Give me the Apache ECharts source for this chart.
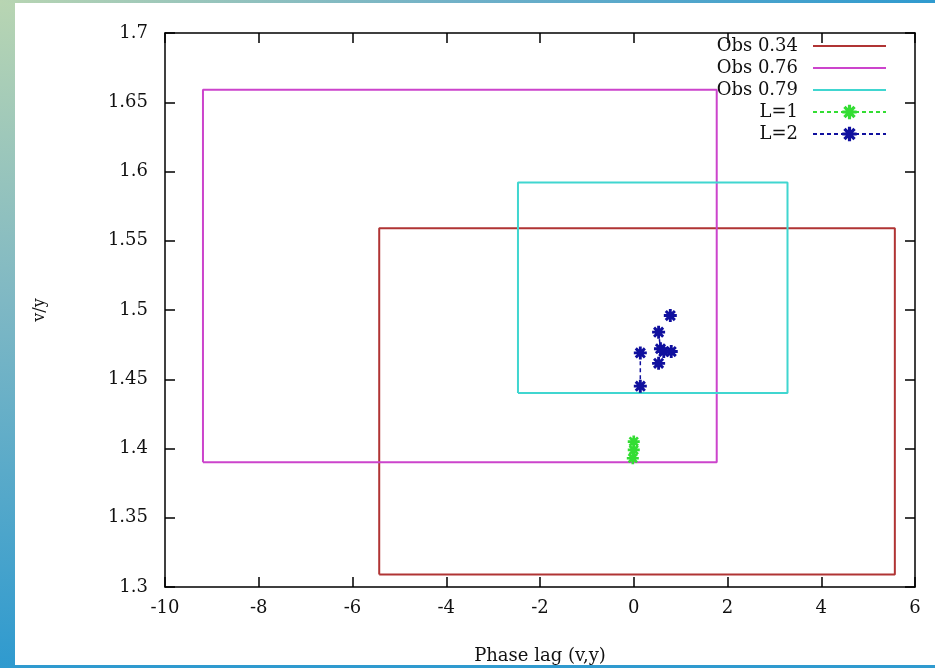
<!DOCTYPE html>
<html>
<head>
<meta charset="utf-8">
<script src="https://cdn.jsdelivr.net/npm/echarts@6/dist/echarts.min.js"></script>
<style>
  html, body { margin: 0; padding: 0; }
  body {
    width: 935px; height: 668px; position: relative; overflow: hidden;
    background: linear-gradient(to bottom, #b8d5b2 0%, #7fb8c4 45%, #2f9acf 100%);
  }
  #topbar { position: absolute; left: 0; top: 0; width: 935px; height: 3px;
    background: linear-gradient(to right, #b8d5b2 0%, #6fb0c8 50%, #2f9acf 100%); }
  #chart { position: absolute; left: 15px; top: 3px; width: 920px; height: 662px; background: #fff; }
</style>
</head>
<body>
<div id="topbar"></div>
<div id="chart"></div>
<script>
// ---- data ----
var xTicks = [-10, -8, -6, -4, -2, 0, 2, 4, 6];
var yTicks = [1.3, 1.35, 1.4, 1.45, 1.5, 1.55, 1.6, 1.65, 1.7];
// observation boxes: [xMin, xMax, yMin, yMax]
var obs034 = [-5.43, 5.57, 1.309, 1.559];
var obs076 = [-9.19, 1.77, 1.39, 1.659];
var obs079 = [-2.47, 3.28, 1.44, 1.592];
// model points (null = gap in the dashed line)
var l1X = [0.0, 0.0, -0.02];
var l1Y = [1.405, 1.399, 1.393];
var l2X = [0.14, 0.14, null, 0.78, null, 0.53, 0.57, null, 0.64, 0.80, null, 0.53];
var l2Y = [1.445, 1.469, null, 1.496, null, 1.484, 1.472, null, 1.470, 1.470, null, 1.4615];
var seriesNames = ['Obs 0.34', 'Obs 0.76', 'Obs 0.79', 'L=1', 'L=2'];
var seriesColors = ['#b03434', '#cc44cc', '#40d6d0', '#33dd33', '#10109e'];

function box(b) {
  return [[b[0], b[2]], [b[0], b[3]], [b[1], b[3]], [b[1], b[2]], [b[0], b[2]]];
}
function pts(xs, ys) {
  return xs.map(function (x, i) { return x === null ? [null, null] : [x, ys[i]]; });
}
var star = 'path://M0,3.9L10,3.9L10,6.1L0,6.1Z M3.9,0L6.1,0L6.1,10L3.9,10Z M0.7,2.3L2.3,0.7L9.3,7.7L7.7,9.3Z M7.7,0.7L9.3,2.3L2.3,9.3L0.7,7.7Z';

var chart = echarts.init(document.getElementById('chart'));
var font = 'DejaVu Serif';
var axisLine = { show: true, onZero: false, lineStyle: { color: '#000', width: 1.5 } };
var tick = { show: true, inside: true, length: 10, lineStyle: { color: '#000', width: 1.5 } };

function boxSeries(i, b) {
  return {
    name: seriesNames[i], type: 'line', data: box(b), symbol: 'none',
    lineStyle: { color: seriesColors[i], width: 2 },
    itemStyle: { color: seriesColors[i], opacity: 0 },
    animation: false, z: 2
  };
}

chart.setOption({
  animation: false,
  grid: { left: 150, right: 20, top: 30, bottom: 78, outerBoundsMode: 'none', containLabel: false },
  legend: {
    orient: 'vertical', right: 43, top: 29, align: 'right',
    itemWidth: 73, itemHeight: 18, itemGap: 4,
    textStyle: { fontFamily: font, fontSize: 18, color: '#111', padding: [0, 10, 0, 0] },
    data: seriesNames
  },
  xAxis: [{
    type: 'value', min: -10, max: 6, interval: 2,
    axisLine: axisLine, axisTick: tick, splitLine: { show: false },
    axisLabel: { fontFamily: font, fontSize: 18, color: '#111', margin: 12 },
    name: 'Phase lag (v,y)', nameLocation: 'middle', nameGap: 60,
    nameTextStyle: { fontFamily: font, fontSize: 18, color: '#111' }
  }, {
    type: 'value', min: -10, max: 6, interval: 2, position: 'top',
    axisLine: axisLine, axisTick: tick, splitLine: { show: false }, axisLabel: { show: false }
  }],
  yAxis: [{
    type: 'value', min: 1.3, max: 1.7, interval: 0.05,
    axisLine: axisLine, axisTick: tick, splitLine: { show: false },
    axisLabel: { fontFamily: font, fontSize: 18, color: '#111', margin: 17,
      formatter: function (v) { return String(+v.toFixed(2)); } },
    name: 'v/y', nameLocation: 'middle', nameGap: 117, nameRotate: 90,
    nameTextStyle: { fontFamily: font, fontSize: 16, color: '#111' }
  }, {
    type: 'value', min: 1.3, max: 1.7, interval: 0.05, position: 'right',
    axisLine: axisLine, axisTick: tick, splitLine: { show: false }, axisLabel: { show: false }
  }],
  series: [
    boxSeries(0, obs034),
    boxSeries(1, obs076),
    boxSeries(2, obs079),
    {
      name: seriesNames[3], type: 'line', data: pts(l1X, l1Y), connectNulls: false,
      symbol: star, symbolSize: 12,
      lineStyle: { color: seriesColors[3], width: 1.5, type: [4, 3] },
      itemStyle: { color: seriesColors[3] }, z: 3
    },
    {
      name: seriesNames[4], type: 'line', data: pts(l2X, l2Y), connectNulls: false,
      symbol: star, symbolSize: 13,
      lineStyle: { color: seriesColors[4], width: 1.5, type: [4, 3] },
      itemStyle: { color: seriesColors[4] }, z: 3
    }
  ]
});
</script>
</body>
</html>
